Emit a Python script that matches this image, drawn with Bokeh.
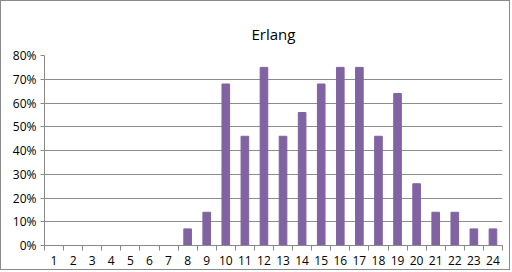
from bokeh.plotting import figure
from bokeh.models import FixedTicker, NumeralTickFormatter, Range1d
from bokeh.embed import file_html
from bokeh.resources import INLINE

hours = list(range(1, 25))
labels = [str(h) for h in hours]
erlang = [0, 0, 0, 0, 0, 0, 0, 0.07, 0.14, 0.68, 0.46, 0.75, 0.46, 0.56,
          0.68, 0.75, 0.75, 0.46, 0.64, 0.26, 0.14, 0.14, 0.07, 0.07]
y_ticks = [0, 0.1, 0.2, 0.3, 0.4, 0.5, 0.6, 0.7, 0.8]

p = figure(width=510, height=270, output_backend="svg", toolbar_location=None,
           x_range=Range1d(0.5, 24.5), y_range=Range1d(0, 0.8),
           title="Erlang", min_border_left=43, min_border_right=9,
           min_border_top=54, min_border_bottom=26)
p.styles = {"border": "1px solid #8a8a8a"}
p.title.align = "center"
p.title.text_font = "Open Sans"
p.title.text_font_style = "normal"
p.title.text_font_size = "15px"
p.title.text_color = "#000000"
p.title.standoff = 23

p.vbar(x=hours, top=erlang, width=0.4, color="#8064A2")

p.xaxis.ticker = FixedTicker(ticks=hours, minor_ticks=[h + 0.5 for h in range(0, 25)])
p.xaxis.major_label_overrides = {h: l for h, l in zip(hours, labels)}
p.xaxis.major_tick_out = 0
p.xaxis.major_tick_in = 0
p.xaxis.minor_tick_out = 5
p.xaxis.minor_tick_in = 0
p.xaxis.minor_tick_line_color = "#888888"
p.xaxis.axis_line_color = "#888888"
p.xaxis.major_label_standoff = 5

p.yaxis.ticker = FixedTicker(ticks=y_ticks)
p.yaxis.formatter = NumeralTickFormatter(format="0%")
p.yaxis.major_tick_out = 4
p.yaxis.major_tick_in = 0
p.yaxis.minor_tick_line_color = None
p.yaxis.major_tick_line_color = "#888888"
p.yaxis.axis_line_color = "#888888"
p.yaxis.major_label_standoff = 4

for ax in (p.xaxis, p.yaxis):
    ax.major_label_text_font = "Open Sans"
    ax.major_label_text_font_size = "12px"
    ax.major_label_text_color = "#000000"

p.xgrid.grid_line_color = None
p.ygrid.ticker = FixedTicker(ticks=y_ticks)
p.ygrid.grid_line_color = "#8c8c8c"
p.outline_line_color = None

open("out.html", "w").write(file_html(p, INLINE))
